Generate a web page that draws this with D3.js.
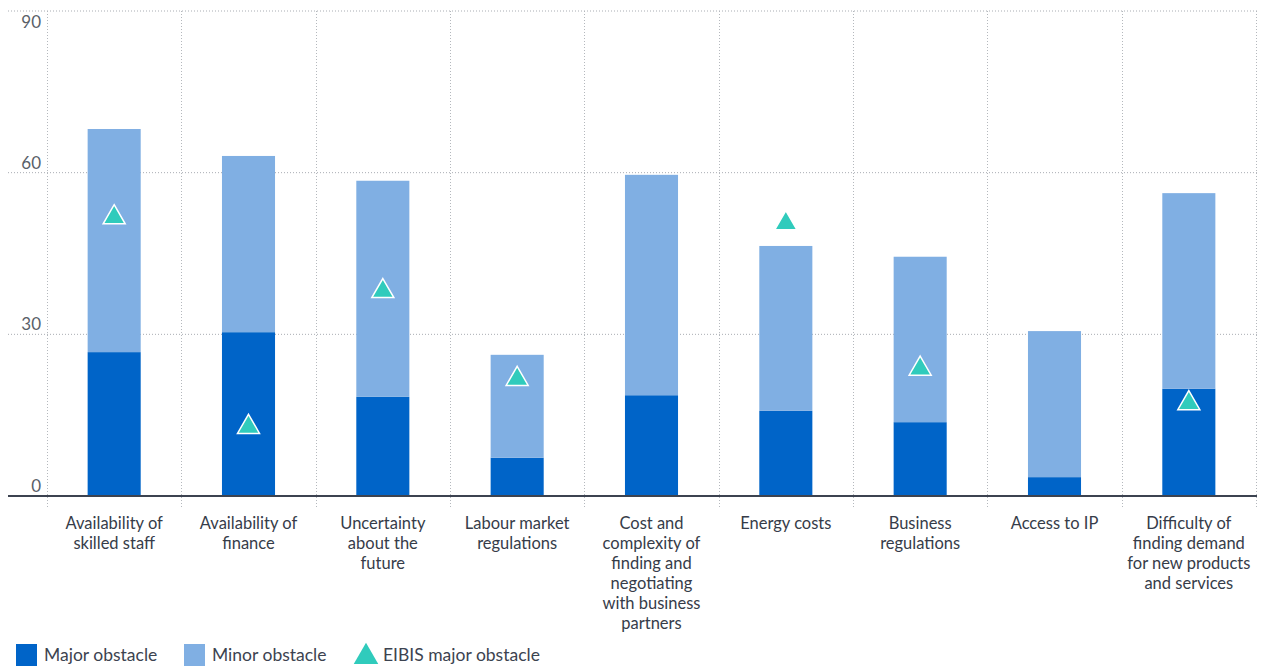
<!DOCTYPE html>
<html><head><meta charset="utf-8">
<script src="https://cdn.jsdelivr.net/npm/d3@7/dist/d3.min.js"></script>
<style>
html,body{margin:0;padding:0;background:#fff;}
svg{display:block;font-family:Lato,"Open Sans",sans-serif;}
</style></head>
<body><svg id="c" width="1268" height="666"></svg>
<script>
const categories = [
  ["Availability of","skilled staff"],
  ["Availability of","finance"],
  ["Uncertainty","about the","future"],
  ["Labour market","regulations"],
  ["Cost and","complexity of","finding and","negotiating","with business","partners"],
  ["Energy costs"],
  ["Business","regulations"],
  ["Access to IP"],
  ["Difficulty of","finding demand","for new products","and services"]
];
const majorObstacle = [26.7, 30.4, 18.4, 7.1, 18.7, 15.8, 13.7, 3.5, 19.9];
const minorObstacle = [41.4, 32.7, 40.1, 19.1, 40.9, 30.6, 30.7, 27.1, 36.3];
const eibisMajor   = [51.7, 12.8, 38.0, 21.7, null, 50.6, 23.6, null, 17.2];
const yTicks = [0, 30, 60, 90];
const legendLabels = ["Major obstacle", "Minor obstacle", "EIBIS major obstacle"];

const colMajor = "#0064C8", colMinor = "#80AFE3", colTri = "#30CBBC";
const svg = d3.select("#c");
const x = d3.scaleBand().domain(d3.range(categories.length)).range([47, 1256]).paddingInner(0.605).paddingOuter(0.3025);
const y = d3.scaleLinear().domain([0, 90]).range([496, 11]);
const step = x.step();

// horizontal gridlines
svg.append("g").selectAll("line").data(yTicks.filter(d => d > 0)).join("line")
  .attr("x1", 8).attr("x2", 1257).attr("y1", d => y(d)).attr("y2", d => y(d))
  .attr("stroke", "#a9adb3").attr("stroke-width", 1).attr("stroke-dasharray", "1,2");
// vertical separators
const seps = d3.range(categories.length + 1).map(i => 47 + i * step);
svg.append("g").selectAll("line").data(seps).join("line")
  .attr("x1", d => Math.round(d) + 0.5).attr("x2", d => Math.round(d) + 0.5)
  .attr("y1", y(90)).attr("y2", 508)
  .attr("stroke", "#b4b8bd").attr("stroke-width", 1).attr("stroke-dasharray", "1,2");

// y labels
svg.append("g").selectAll("text").data(yTicks).join("text")
  .attr("x", 41).attr("y", d => d === 90 ? y(d) + 17 : y(d) - 4)
  .attr("text-anchor", "end").attr("fill", "#5a5f69").attr("font-size", 17)
  .text(d => d);

// bars
const g = svg.append("g");
g.selectAll("rect.maj").data(majorObstacle).join("rect").attr("class", "maj")
  .attr("x", (d, i) => x(i)).attr("width", x.bandwidth())
  .attr("y", d => y(d)).attr("height", d => y(0) - y(d)).attr("fill", colMajor);
g.selectAll("rect.min").data(minorObstacle).join("rect").attr("class", "min")
  .attr("x", (d, i) => x(i)).attr("width", x.bandwidth())
  .attr("y", (d, i) => y(d + majorObstacle[i])).attr("height", d => y(0) - y(d)).attr("fill", colMinor);

// baseline
svg.append("line").attr("x1", 8).attr("x2", 1257).attr("y1", y(0)).attr("y2", y(0))
  .attr("stroke", "#3c4350").attr("stroke-width", 2);

// triangles
const tri = d3.symbol().type(d3.symbolTriangle).size(210);
svg.append("g").selectAll("path").data(eibisMajor.map((v, i) => ({v, i})).filter(d => d.v != null)).join("path")
  .attr("d", tri).attr("transform", d => `translate(${x(d.i) + x.bandwidth() / 2},${y(d.v)})`)
  .attr("fill", colTri).attr("stroke", "#fff").attr("stroke-width", 1.5);

// category labels
const lab = svg.append("g");
categories.forEach((lines, i) => {
  const t = lab.append("text").attr("text-anchor", "middle").attr("fill", "#363c49").attr("font-size", 16.5);
  lines.forEach((ln, k) => t.append("tspan").attr("x", x(i) + x.bandwidth() / 2).attr("y", 529 + k * 20).text(ln));
});

// legend
const lg = svg.append("g");
lg.append("rect").attr("x", 16).attr("y", 644).attr("width", 21).attr("height", 22).attr("fill", colMajor);
lg.append("text").attr("x", 44).attr("y", 661).attr("font-size", 17.5).attr("fill", "#3c4350").text(legendLabels[0]);
lg.append("rect").attr("x", 184).attr("y", 644).attr("width", 21).attr("height", 22).attr("fill", colMinor);
lg.append("text").attr("x", 212).attr("y", 661).attr("font-size", 17.5).attr("fill", "#3c4350").text(legendLabels[1]);
lg.append("path").attr("d", d3.symbol().type(d3.symbolTriangle).size(260)).attr("transform", "translate(366,657)").attr("fill", colTri);
lg.append("text").attr("x", 383).attr("y", 661).attr("font-size", 17.5).attr("fill", "#3c4350").text(legendLabels[2]);
</script></body></html>
